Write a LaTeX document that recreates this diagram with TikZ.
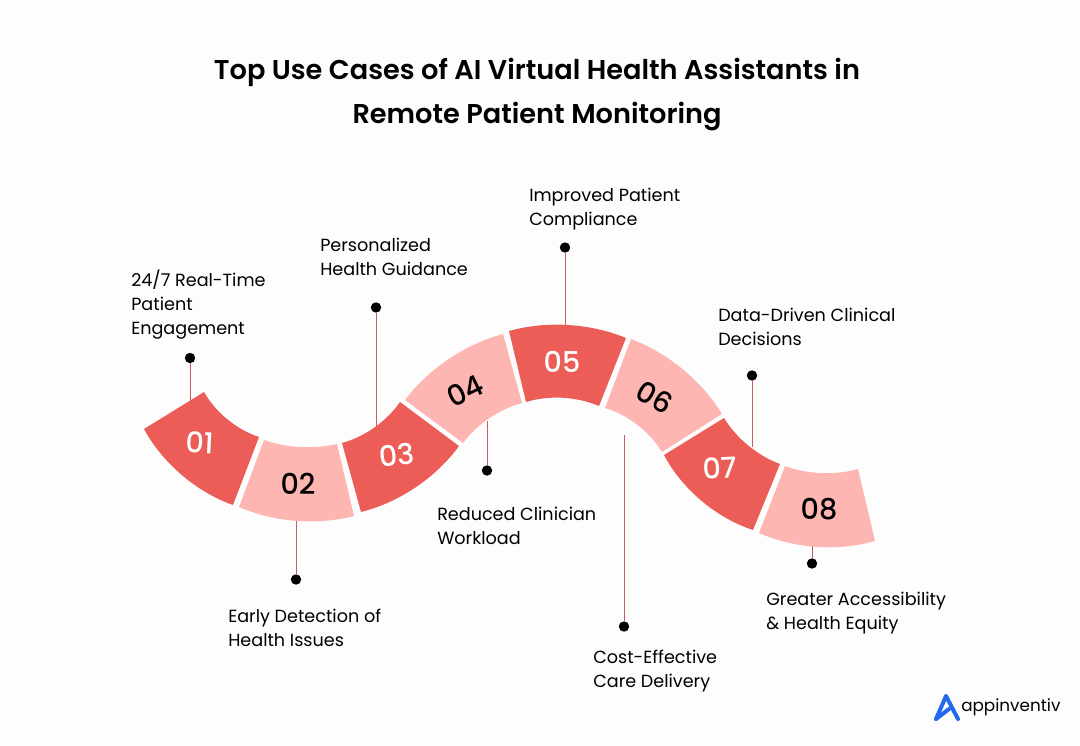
\documentclass[tikz,border=0pt]{standalone}
\usepackage{fontspec}
\setmainfont{Poppins}
\newfontfamily\titlefont{Poppins SemiBold}
\newfontfamily\numfont{Poppins Medium}
\definecolor{paper}{HTML}{FEFDFE}
\definecolor{segdark}{HTML}{EC5D58}
\definecolor{seglight}{HTML}{FEB6B2}
\definecolor{stem}{HTML}{CE5B5C}
\definecolor{logoblue}{HTML}{2468EE}
\tikzset{
	dot/.style={circle,fill=black,inner sep=0pt,minimum size=7.8pt},
	stemline/.style={draw=stem,line width=0.7pt},
	itemtext/.style={anchor=west,align=left,inner sep=0pt,font=\fontsize{13.2pt}{18pt}\selectfont},
	darknum/.style={text=white,inner sep=0pt,font=\numfont\fontsize{21.5pt}{21.5pt}\selectfont},
	lightnum/.style={text=black,inner sep=0pt,font=\numfont\fontsize{21.5pt}{21.5pt}\selectfont},
}
\begin{document}
\begin{tikzpicture}[x=0.75pt,y=-0.75pt]
	\useasboundingbox (0,0) rectangle (1080,745);
	\fill[paper] (0,0) rectangle (1080,745);
	\path node (title) at (537,95) [align=center,inner sep=0pt,font=\titlefont\fontsize{20.4pt}{33pt}\selectfont] {Top Use Cases of AI Virtual Health Assistants in\\Remote Patient Monitoring};
	\begin{scope}[looseness=0.85]
	\fill[segdark] (144,429) to[bend right=21] (233,505) -- (259,437) to[bend left=21] (204,392) -- cycle;
	\fill[seglight] (264,440) to[bend right=16] (337,444) -- (354,516) to[bend left=19] (239,507) -- cycle;
	\fill[segdark] (342,443) to[bend right=20] (400,402) -- (459,446) to[bend left=20] (361,512) -- cycle;
	\fill[seglight] (405,400) to[bend left=19] (503,334) -- (522,403) to[bend right=19] (463,443) -- cycle;
	\fill[segdark] (509,331) to[bend left=19] (626,338) -- (599,406) to[bend right=20] (526,402) -- cycle;
	\fill[seglight] (631,339) to[bend left=19] (722,414) -- (662,452) to[bend right=21] (605,408) -- cycle;
	\fill[segdark] (724,418) to[bend right=19] (780,464) -- (753,530) to[bend left=22] (664,455) -- cycle;
	\fill[seglight] (785,466) to[bend right=18] (858,469) -- (875,541) to[bend left=20] (759,533) -- cycle;
	\end{scope}
	\path node (num1) at (200,443) [darknum,rotate=-3] {01}
	node (num2) at (298,484) [lightnum] {02}
	node (num3) at (397,455) [darknum,rotate=6] {03}
	node (num4) at (465,391) [lightnum,rotate=26] {04}
	node (num5) at (562,362) [darknum] {05}
	node (num6) at (655,397) [lightnum,rotate=-30] {06}
	node (num7) at (720,468) [darknum,rotate=3] {07}
	node (num8) at (819,509) [lightnum] {08};
	\path node (dot1) at (190,358) [dot] {}
	node (dot2) at (296,579.5) [dot] {}
	node (dot3) at (376,307.5) [dot] {}
	node (dot4) at (487,470.5) [dot] {}
	node (dot5) at (565,247.5) [dot] {}
	node (dot6) at (624,626.5) [dot] {}
	node (dot7) at (752,375.5) [dot] {}
	node (dot8) at (812,563.5) [dot] {};
	\coordinate (end1) at (190,402);
	\coordinate (end2) at (296,521);
	\coordinate (end3) at (376,426);
	\coordinate (end4) at (487,421);
	\coordinate (end5) at (565,325);
	\coordinate (end6) at (624,435);
	\coordinate (end7) at (752,447);
	\coordinate (end8) at (812,546);
	\begin{scope}[stemline]
	\draw (dot1) -- (end1);
	\draw (dot2) -- (end2);
	\draw (dot3) -- (end3);
	\draw (dot4) -- (end4);
	\draw (dot5) -- (end5);
	\draw (dot6) -- (end6);
	\draw (dot7) -- (end7);
	\draw (dot8) -- (end8);
	\end{scope}
	\path node (item1) at (131,305) [itemtext] {24/7 Real-Time\\Patient\\Engagement}
	node (item2) at (228,628) [itemtext] {Early Detection of\\Health Issues}
	node (item3) at (320,257) [itemtext] {Personalized\\Health Guidance}
	node (item4) at (437,526) [itemtext] {Reduced Clinician\\Workload}
	node (item5) at (529,209.5) [itemtext] {Improved Patient\\Compliance}
	node (item6) at (593,671.5) [itemtext] {Cost-Effective\\Care Delivery}
	node (item7) at (718,327) [itemtext] {Data-Driven Clinical\\Decisions}
	node (item8) at (766,613.5) [itemtext] {Greater Accessibility\\\& Health Equity};
	\draw[logoblue,line width=3pt,line join=round,line cap=round] (936,719) -- (946,696) -- (958,719);
	\draw[logoblue,line width=3pt,line cap=round] (936,719) -- (949,709);
	\path node (brand) at (961,707) [anchor=west,inner sep=0pt,font=\fontsize{12.6pt}{13pt}\selectfont] {appinventiv};
\end{tikzpicture}
\end{document}
